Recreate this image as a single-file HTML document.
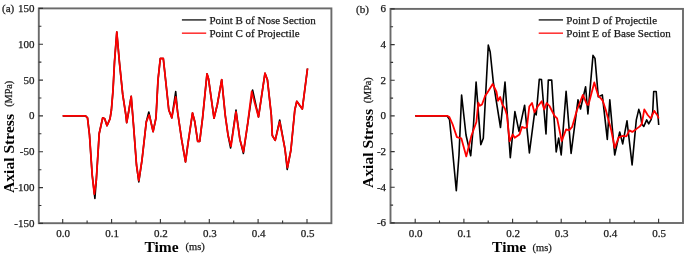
<!DOCTYPE html>
<html><head><meta charset="utf-8"><style>
html,body{margin:0;padding:0;background:#fff;width:685px;height:255px;overflow:hidden}
svg{display:block}
text{font-family:"Liberation Serif",serif;fill:#1a1a1a}
.txt{filter:grayscale(1)}
.tl,.lg,.xu,.yu{stroke:#1a1a1a;stroke-width:0.25px}
.tl{font-size:11px}
.lg{font-size:11px}
.xt{font-size:15.5px;font-weight:bold;fill:#000}
.xu{font-size:10.5px}
.yt{font-size:15.6px;font-weight:bold;fill:#000}
.yu{font-size:10.2px}
.cb{fill:none;stroke:#000;stroke-width:1.6;stroke-linejoin:round}
.cr{fill:none;stroke:#f00;stroke-width:1.8;stroke-linejoin:round}
</style></head><body>
<svg width="685" height="255" viewBox="0 0 685 255">
<rect x="38.8" y="8.4" width="292.6" height="214.8" fill="none" stroke="#6a6a6a" stroke-width="1.9"/>
<path d="M62.7 223.2v-4.2M87.1 223.2v-2.6M111.6 223.2v-4.2M136 223.2v-2.6M160.4 223.2v-4.2M184.9 223.2v-2.6M209.3 223.2v-4.2M233.7 223.2v-2.6M258.1 223.2v-4.2M282.6 223.2v-2.6M307 223.2v-4.2M38.8 8.4h4.2M38.8 44.2h4.2M38.8 80.1h4.2M38.8 115.9h4.2M38.8 151.7h4.2M38.8 187.6h4.2M38.8 223.4h4.2M38.8 26.3h2.6M38.8 62.1h2.6M38.8 98h2.6M38.8 133.8h2.6M38.8 169.7h2.6M38.8 205.5h2.6" stroke="#333" stroke-width="1.1" fill="none"/>
<rect x="390.5" y="8.9" width="292.5" height="214.1" fill="none" stroke="#6a6a6a" stroke-width="1.9"/>
<path d="M415.2 223v-4.2M439.5 223v-2.6M463.9 223v-4.2M488.2 223v-2.6M512.6 223v-4.2M536.9 223v-2.6M561.2 223v-4.2M585.6 223v-2.6M609.9 223v-4.2M634.3 223v-2.6M658.6 223v-4.2M390.5 8.9h4.2M390.5 44.6h4.2M390.5 80.2h4.2M390.5 115.9h4.2M390.5 151.6h4.2M390.5 187.2h4.2M390.5 222.9h4.2M390.5 26.8h2.6M390.5 62.4h2.6M390.5 98.1h2.6M390.5 133.7h2.6M390.5 169.4h2.6M390.5 205.1h2.6" stroke="#333" stroke-width="1.1" fill="none"/>
<polyline points="62.7,115.9 85.5,115.9 87.5,117.8 89.5,135 92.2,175 94.9,198.5 96.3,180 98.2,150 99.2,133.5 102.7,117.8 104.7,118.8 107,125.7 110,118.8 111.4,110 113,90.5 114.5,62 116.8,32 119.4,62 122.7,94.4 125.7,114 126.7,122.7 128.6,112 131.2,96.4 133.5,125 136.5,165 138.8,182 142,160 146.3,121.8 148.8,112 153.1,131.6 156,117.8 158,80 160.3,58.5 163.3,58.5 165.6,80 168.8,110 171.8,117.8 175.7,91.5 177.6,112 181.6,139.4 185.5,161.9 188,143.3 192.5,113 194.8,121.8 197.7,141.4 199.7,141.4 202.6,117.8 207,73.8 208.5,78.7 214,118.2 217.4,104.2 221.7,79.7 225.2,115 228.1,135.5 230.6,148 236,110 239.9,139.4 243.4,153.5 247.7,123.7 252.6,90 258.5,116.9 265,73.2 267.4,79.7 271.3,115 272.3,135.5 275.2,140.4 279.7,120 285,149.2 287.2,169.5 290.9,150 294.8,110 296.8,101.3 302.3,109.1 307.5,68.5" class="cb"/>
<polyline points="62.7,115.9 85.5,115.9 87.5,117.8 89.5,135 92.2,175 94.3,194.2 96.3,180 98.2,150 99.2,133.5 102.7,117.8 104.7,118.8 107,125.7 110,118.8 111.4,110 113,90.5 114.5,62 116.8,32 119.4,62 122.7,94.4 125.7,114 126.7,122.7 128.6,112 131.2,96.4 133.5,125 136.5,165 138.8,180.5 142,160 146.3,121.8 149.2,114.9 153.1,131.6 156,117.8 158,80 160.3,58.5 163.3,58.5 165.6,80 168.8,110 171.8,117.8 175.7,97 177.6,112 181.6,139.4 185.5,161.9 188,143.3 192.5,113 194.8,121.8 197.7,141.4 199.7,141.4 202.6,117.8 207,73.8 208.5,78.7 214,118.2 217.4,104.2 221.7,79.7 225.2,115 228.1,135.5 231,146.3 236,112 239.9,139.4 243.4,151.8 247.7,123.7 251.7,91.5 258.5,116.9 265,73.2 267.4,79.7 271.3,115 272.3,135.5 275.2,140.4 279.7,121.8 285,149.2 287.4,167.7 290.9,150 294.8,110 296.8,101.3 302.3,109.1 307.5,68.5" class="cr"/>
<polyline points="415.2,115.9 447,115.9 449.5,119.5 452.5,150 456.3,190.7 459,155 461.6,95.1 466,135 470.7,155.8 473.5,125 476.1,82.1 480.8,144.6 483.3,138.3 488.3,45.1 490.2,52 493.3,82.1 500.5,127.5 505,82.1 510.3,157.6 514.9,111.6 519,131.4 524.6,105.2 529.4,152.9 534.7,111.9 536.2,114.9 539.3,79.2 541.5,79.5 546,134 548.3,80 551.7,80.1 556.2,151.9 558.7,138 561.2,154.9 566.1,91.4 571.1,153.4 578,99.9 580.5,109 585.6,86.8 587.9,114 593,55.4 595,58.4 598.3,96.9 602.3,94.9 607.3,139.4 609.8,99.9 614.7,155 619.7,132 622.7,143.9 627,120.9 632.1,164.9 636.3,119.9 638.8,109.4 640.3,114 641.8,123.9 643.8,126.4 646.7,119.9 648.7,123.9 651.2,119.4 652.7,112 653.7,91.5 656.2,91.5 658.7,125" class="cb"/>
<polyline points="415.2,115.9 447.5,115.9 449.4,117.1 452.5,124 456.9,137.1 461.3,138.3 466.3,156.4 471.4,135.8 476.4,122 478.3,102.7 479.9,105.8 482,104.5 485.2,95.8 487,93.3 492.7,84 496.5,92 498,100.8 500.2,97 502.3,104.5 504.9,108.4 506.9,114.9 509.6,141.4 512.8,134.5 514.7,137.7 519.5,134.4 522,126.9 524.4,127.9 526.9,127.4 529.3,106.5 532,103 534.5,112.4 537.7,106.5 541.7,101.2 544.2,109.4 546.7,103 549.5,106 552,111 554.6,116 557.1,118.4 561.7,141 566.1,129.4 569.1,130.4 572.1,126.9 577,110 582.9,94.9 586.9,104.4 588.4,104.9 594.3,82.4 598.3,95.9 601.3,98.9 602.8,100.9 605.8,110 611.2,130 614.7,147.9 618.7,137.4 622.9,135.8 626.4,136.3 629.4,130.4 632.3,131.9 635.8,129.4 639.8,126.4 641.8,123.9 644.3,109.4 647.7,115 650.7,118.5 654.2,110.9 657.2,115 658.7,118.5" class="cr"/>
<path d="M181.9 19.9h24.3" stroke="#3a3a3a" stroke-width="1.6"/>
<path d="M181.9 33.2h24.3" stroke="#ff3838" stroke-width="1.6"/>
<path d="M538.7 19.9h24.3" stroke="#3a3a3a" stroke-width="1.6"/>
<path d="M538.7 33.2h24.3" stroke="#ff3838" stroke-width="1.6"/>
<g class="txt">
<text x="63.2" y="237.2" class="tl" text-anchor="middle">0.0</text>
<text x="112.1" y="237.2" class="tl" text-anchor="middle">0.1</text>
<text x="160.9" y="237.2" class="tl" text-anchor="middle">0.2</text>
<text x="209.8" y="237.2" class="tl" text-anchor="middle">0.3</text>
<text x="258.6" y="237.2" class="tl" text-anchor="middle">0.4</text>
<text x="307.5" y="237.2" class="tl" text-anchor="middle">0.5</text>
<text x="34.5" y="11.9" class="tl" text-anchor="end">150</text>
<text x="34.5" y="47.7" class="tl" text-anchor="end">100</text>
<text x="34.5" y="83.6" class="tl" text-anchor="end">50</text>
<text x="34.5" y="119.4" class="tl" text-anchor="end">0</text>
<text x="34.5" y="155.2" class="tl" text-anchor="end">-50</text>
<text x="34.5" y="191.1" class="tl" text-anchor="end">-100</text>
<text x="34.5" y="226.9" class="tl" text-anchor="end">-150</text>
<text x="415.7" y="237.2" class="tl" text-anchor="middle">0.0</text>
<text x="464.4" y="237.2" class="tl" text-anchor="middle">0.1</text>
<text x="513.1" y="237.2" class="tl" text-anchor="middle">0.2</text>
<text x="561.7" y="237.2" class="tl" text-anchor="middle">0.3</text>
<text x="610.4" y="237.2" class="tl" text-anchor="middle">0.4</text>
<text x="659.1" y="237.2" class="tl" text-anchor="middle">0.5</text>
<text x="386.1" y="12.4" class="tl" text-anchor="end">6</text>
<text x="386.1" y="48.1" class="tl" text-anchor="end">4</text>
<text x="386.1" y="83.7" class="tl" text-anchor="end">2</text>
<text x="386.1" y="119.4" class="tl" text-anchor="end">0</text>
<text x="386.1" y="155.1" class="tl" text-anchor="end">-2</text>
<text x="386.1" y="190.7" class="tl" text-anchor="end">-4</text>
<text x="386.1" y="226.4" class="tl" text-anchor="end">-6</text>
<text x="2" y="11.5" class="tl">(a)</text>
<text x="356" y="12.8" class="tl">(b)</text>
<text x="144.5" y="251.7" class="xt">Time</text>
<text x="185.5" y="249.7" class="xu">(ms)</text>
<text x="492.1" y="251.7" class="xt">Time</text>
<text x="532.6" y="250.5" class="xu">(ms)</text>
<text transform="translate(13.8,193) rotate(-90)" class="yt">Axial Stress</text>
<text transform="translate(12.2,106.8) rotate(-90)" class="yu">(MPa)</text>
<text transform="translate(372.7,188) rotate(-90)" class="yt">Axial Stress</text>
<text transform="translate(371,103.3) rotate(-90)" class="yu">(MPa)</text>
<text x="209.5" y="23.9" class="lg">Point B of Nose Section</text>
<text x="209.5" y="37.1" class="lg">Point C of Projectile</text>
<text x="566.3" y="23.9" class="lg">Point D of Projectile</text>
<text x="566.3" y="37.1" class="lg">Point E of Base Section</text>
</g>
</svg>
</body></html>
